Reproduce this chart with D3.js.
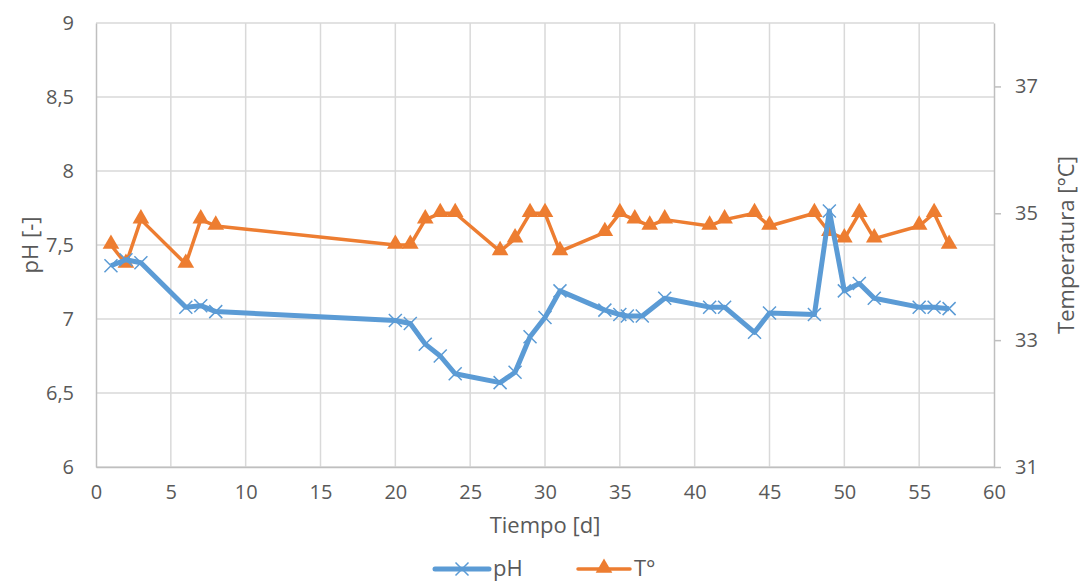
<!DOCTYPE html>
<html>
<head>
<meta charset="utf-8">
<script src="https://cdn.jsdelivr.net/npm/d3@7"></script>
<style>
  html, body { margin: 0; padding: 0; background: #fff; }
  svg text { font-family: "Open Sans", "Liberation Sans", sans-serif; fill: #595959; }
</style>
</head>
<body>
<svg id="chart" width="1080" height="581"></svg>
<script>
// ---- Data ----
const phDays = [1,2,3,6,7,8,20,21,22,23,24,27,28,29,30,31,34,35,35.5,36.5,38,41,42,44,45,48,49,50,51,52,55,56,57];
const phValues = [7.36,7.40,7.38,7.08,7.09,7.05,6.99,6.97,6.83,6.75,6.63,6.57,6.64,6.88,7.01,7.19,7.06,7.03,7.02,7.02,7.14,7.08,7.08,6.91,7.04,7.03,7.73,7.19,7.24,7.14,7.08,7.08,7.07];
const tempDays = [1,2,3,6,7,8,20,21,22,23,24,27,28,29,30,31,34,35,36,37,38,41,42,44,45,48,49,50,51,52,55,56,57];
const tempValues = [34.5,34.2,34.9,34.2,34.9,34.8,34.5,34.5,34.9,35.0,35.0,34.4,34.6,35.0,35.0,34.4,34.7,35.0,34.9,34.8,34.9,34.8,34.9,35.0,34.8,35.0,34.7,34.6,35.0,34.6,34.8,35.0,34.5];
const xTicks = [0,5,10,15,20,25,30,35,40,45,50,55,60];
const phTicks = [6,6.5,7,7.5,8,8.5,9];
const tempTicks = [31,33,35,37];
const xTitle = "Tiempo [d]";
const phTitle = "pH [-]";
const tempTitle = "Temperatura [°C]";
const seriesNames = ["pH", "T°"];

// ---- Layout ----
const L = 96, R = 994, T = 23, B = 467;
const blue = "#5B9BD5", orange = "#ED7D31";
const svg = d3.select("#chart");

const x = d3.scaleLinear().domain([0, 60]).range([L, R]);
const yL = d3.scaleLinear().domain([6, 9]).range([B, T]);
const yR = d3.scaleLinear().domain([31, 38]).range([B, T]);

const fmt = d => String(d).replace(".", ",");

// gridlines
svg.append("g").selectAll("line.h").data(phTicks).join("line")
  .attr("x1", L).attr("x2", R).attr("y1", d => yL(d)).attr("y2", d => yL(d))
  .attr("stroke", "#d9d9d9").attr("stroke-width", 1.5);
svg.append("g").selectAll("line.v").data(xTicks.filter(d => d > 0 && d < 60)).join("line")
  .attr("x1", d => x(d)).attr("x2", d => x(d)).attr("y1", T).attr("y2", B)
  .attr("stroke", "#d9d9d9").attr("stroke-width", 1.5);

// axes
const axisColor = "#bfbfbf";
const gx = svg.append("g").attr("transform", `translate(0,${B})`)
  .call(d3.axisBottom(x).tickValues(xTicks).tickSize(0).tickPadding(18).tickFormat(d => d));
gx.select(".domain").attr("stroke", axisColor).attr("stroke-width", 1.5);
gx.selectAll("text").attr("font-size", 20).attr("fill", "#595959");

const gl = svg.append("g").attr("transform", `translate(${L},0)`)
  .call(d3.axisLeft(yL).tickValues(phTicks).tickSize(0).tickPadding(22).tickFormat(fmt));
gl.select(".domain").attr("stroke", axisColor).attr("stroke-width", 1.5);
gl.selectAll("text").attr("font-size", 20).attr("fill", "#595959");

const gr = svg.append("g").attr("transform", `translate(${R},0)`)
  .call(d3.axisRight(yR).tickValues(tempTicks).tickSize(7).tickPadding(14).tickSizeOuter(0).tickFormat(d => d));
gr.select(".domain").attr("stroke", axisColor).attr("stroke-width", 1.5);
gr.selectAll("line").attr("stroke", axisColor).attr("stroke-width", 1.5);
gr.selectAll("text").attr("font-size", 20).attr("fill", "#595959");

// axis titles
svg.append("text").attr("x", x(30)).attr("y", 533).attr("text-anchor", "middle")
  .attr("font-size", 22).text(xTitle);
svg.append("text").attr("transform", `translate(38,${(T+B)/2}) rotate(-90)`)
  .attr("text-anchor", "middle").attr("font-size", 22).text(phTitle);
svg.append("text").attr("transform", `translate(1074,${(T+B)/2}) rotate(-90)`)
  .attr("text-anchor", "middle").attr("font-size", 22).text(tempTitle);

// series
const phData = phDays.map((d, i) => [d, phValues[i]]);
const tData = tempDays.map((d, i) => [d, tempValues[i]]);

svg.append("path").datum(tData)
  .attr("d", d3.line().x(d => x(d[0])).y(d => yR(d[1])))
  .attr("fill", "none").attr("stroke", orange).attr("stroke-width", 3.5).attr("stroke-linejoin", "round");

const tri = d3.symbol().type(d3.symbolTriangle).size(120);
svg.append("g").selectAll("path").data(tData).join("path")
  .attr("d", tri).attr("transform", d => `translate(${x(d[0])},${yR(d[1]) - 1})`)
  .attr("fill", orange);

svg.append("path").datum(phData)
  .attr("d", d3.line().x(d => x(d[0])).y(d => yL(d[1])))
  .attr("fill", "none").attr("stroke", blue).attr("stroke-width", 5).attr("stroke-linejoin", "round");

const xs = 6.5;
const xMark = `M${-xs},${-xs}L${xs},${xs}M${-xs},${xs}L${xs},${-xs}`;
svg.append("g").selectAll("path").data(phData).join("path")
  .attr("d", xMark).attr("transform", d => `translate(${x(d[0])},${yL(d[1])})`)
  .attr("stroke", blue).attr("stroke-width", 1.5).attr("fill", "none");

// legend
const ly = 569;
const leg = svg.append("g");
leg.append("line").attr("x1", 435).attr("x2", 489).attr("y1", ly).attr("y2", ly)
  .attr("stroke", blue).attr("stroke-width", 5).attr("stroke-linecap", "round");
leg.append("path").attr("d", xMark).attr("transform", `translate(462,${ly})`)
  .attr("stroke", blue).attr("stroke-width", 1.5);
leg.append("text").attr("x", 493).attr("y", ly + 7).attr("font-size", 22).text(seriesNames[0]);
leg.append("line").attr("x1", 578).attr("x2", 630).attr("y1", ly).attr("y2", ly)
  .attr("stroke", orange).attr("stroke-width", 3.5).attr("stroke-linecap", "round");
leg.append("path").attr("d", tri).attr("transform", `translate(604,${ly - 1})`).attr("fill", orange);
leg.append("text").attr("x", 634).attr("y", ly + 7).attr("font-size", 22).text(seriesNames[1]);
</script>
</body>
</html>
